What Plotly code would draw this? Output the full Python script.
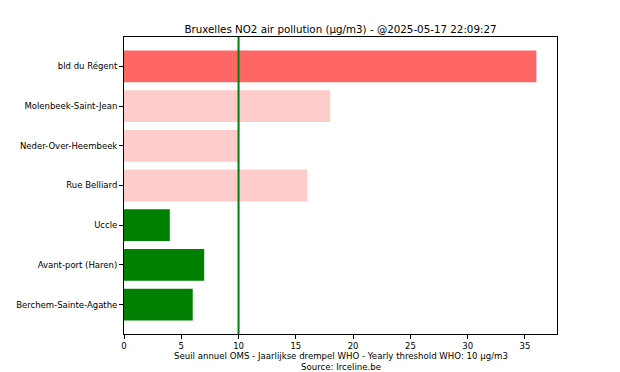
import plotly.graph_objects as go

stations = ["bld du Régent", "Molenbeek-Saint-Jean", "Neder-Over-Heembeek", "Rue Belliard",
            "Uccle", "Avant-port (Haren)", "Berchem-Sainte-Agathe"]
values = [36, 18, 10, 16, 4, 7, 6]
colors = ["#ff6666", "#ffcccc", "#ffcccc", "#ffcccc", "#008000", "#008000", "#008000"]
threshold = 10
x_ticks = [0, 5, 10, 15, 20, 25, 30, 35]
title_text = "Bruxelles NO2 air pollution (µg/m3) - @2025-05-17 22:09:27"
xlabel_lines = ["Seuil annuel OMS - Jaarlijkse drempel WHO - Yearly threshold WHO: 10 µg/m3",
                "Source: Irceline.be"]

font = "DejaVu Sans, Liberation Sans, sans-serif"

# page has an 8px body margin; work in figure coordinates
W, H = 612, 364
L, R, T, B = 116, 63, 29, 38
plot_h = H - T - B

fig = go.Figure(go.Bar(
    x=values, y=stations, orientation="h", width=0.8,
    marker=dict(color=colors, line=dict(width=0)),
))

fig.add_shape(type="line", x0=threshold, x1=threshold, y0=0, y1=1, yref="paper",
              line=dict(color="#008000", width=2), layer="above")

fig.add_annotation(text=xlabel_lines[0], xref="paper", yref="paper", x=0.5, y=-22 / plot_h,
                   xanchor="center", yanchor="middle", showarrow=False,
                   font=dict(size=8.6, family=font, color="black"))
fig.add_annotation(text=xlabel_lines[1], xref="paper", yref="paper", x=0.5, y=-33 / plot_h,
                   xanchor="center", yanchor="middle", showarrow=False,
                   font=dict(size=8.6, family=font, color="black"))

fig.update_layout(
    width=W, height=H,
    margin=dict(l=L, r=R, t=T, b=B),
    paper_bgcolor="white", plot_bgcolor="white",
    font=dict(family=font, size=8.5, color="black"),
    title=dict(text=title_text,
               x=(L + (W - R)) / 2 / W, xanchor="center", y=1 - 21 / H, yanchor="middle",
               font=dict(size=10.3, family=font, color="black")),
    showlegend=False,
)
fig.update_xaxes(range=[0, 37.8], tickvals=x_ticks, ticks="outside", ticklen=4,
                 tickcolor="black", showline=True, linecolor="black", linewidth=1, mirror=True,
                 showgrid=False, zeroline=False, automargin=False,
                 tickfont=dict(size=8.5, color="black"))
fig.update_yaxes(range=[6.74, -0.74], ticks="outside", ticklen=4, tickcolor="black",
                 showline=True, linecolor="black", linewidth=1, mirror=True,
                 showgrid=False, zeroline=False, automargin=False,
                 tickfont=dict(size=8.5, color="black"))

fig.write_html("out.html")
